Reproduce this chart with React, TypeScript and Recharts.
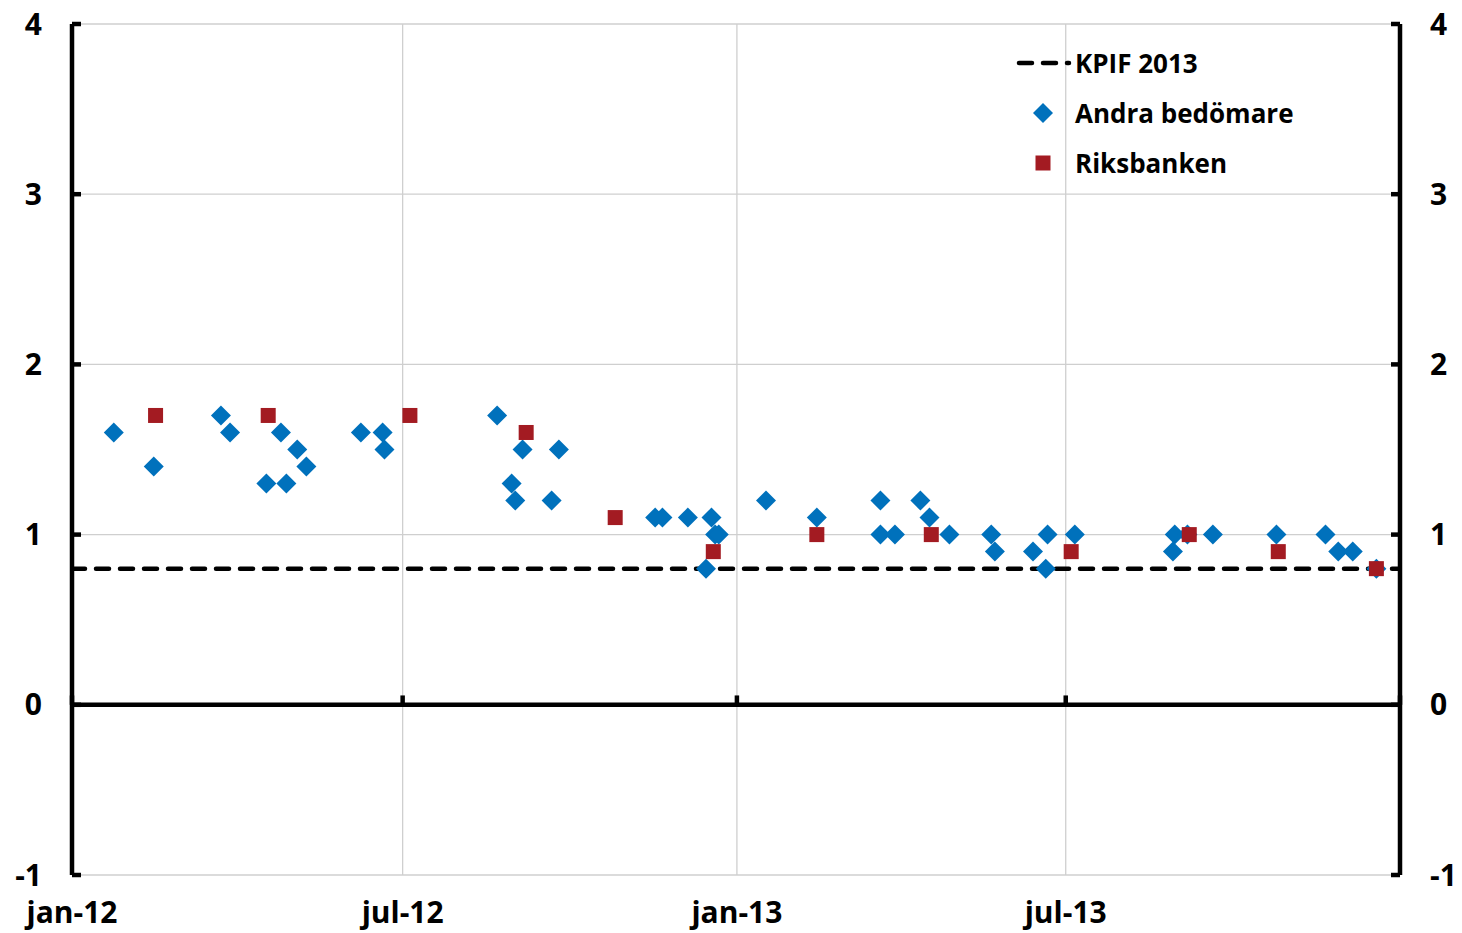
import React from 'react';
import { ComposedChart, Scatter, XAxis, YAxis, CartesianGrid, ReferenceLine } from 'recharts';

// KPIF outcome for 2013, drawn across the whole period
const KPIF_2013: [string, number][] = [
  ['2012-01-01', 0.8], ['2014-01-01', 0.8],
];

// forecasts from other forecasters (date of forecast, KPIF 2013 %)
const ANDRA_BEDOMARE: [string, number][] = [
  ['2012-01-24', 1.6], ['2012-02-15', 1.4], ['2012-03-23', 1.7], ['2012-03-28', 1.6],
  ['2012-04-17', 1.3], ['2012-04-25', 1.6], ['2012-04-28', 1.3], ['2012-05-04', 1.5],
  ['2012-05-09', 1.4], ['2012-06-08', 1.6], ['2012-06-20', 1.6], ['2012-06-21', 1.5],
  ['2012-08-22', 1.7], ['2012-08-30', 1.3], ['2012-09-01', 1.2], ['2012-09-05', 1.5],
  ['2012-09-21', 1.2], ['2012-09-25', 1.5], ['2012-11-17', 1.1], ['2012-11-21', 1.1],
  ['2012-12-05', 1.1], ['2012-12-15', 0.8], ['2012-12-18', 1.1], ['2012-12-20', 1.0],
  ['2012-12-22', 1.0], ['2013-01-17', 1.2], ['2013-02-14', 1.1], ['2013-03-21', 1.2],
  ['2013-03-21', 1.0], ['2013-03-29', 1.0], ['2013-04-12', 1.2], ['2013-04-17', 1.1],
  ['2013-04-28', 1.0], ['2013-05-21', 1.0], ['2013-05-23', 0.9], ['2013-06-13', 0.9],
  ['2013-06-20', 0.8], ['2013-06-21', 1.0], ['2013-07-06', 1.0], ['2013-08-29', 0.9],
  ['2013-08-30', 1.0], ['2013-09-06', 1.0], ['2013-09-20', 1.0], ['2013-10-25', 1.0],
  ['2013-11-21', 1.0], ['2013-11-28', 0.9], ['2013-12-06', 0.9], ['2013-12-19', 0.8],
];

// Riksbank forecasts
const RIKSBANKEN: [string, number][] = [
  ['2012-02-16', 1.7], ['2012-04-18', 1.7], ['2012-07-05', 1.7], ['2012-09-07', 1.6],
  ['2012-10-26', 1.1], ['2012-12-19', 0.9], ['2013-02-14', 1.0], ['2013-04-18', 1.0],
  ['2013-07-04', 0.9], ['2013-09-07', 1.0], ['2013-10-26', 0.9], ['2013-12-19', 0.8],
];

const X_TICK_DATES = ['2012-01-01', '2012-07-01', '2013-01-01', '2013-07-01', '2014-01-01'];
const X_TICK_LABELS = ['jan-12', 'jul-12', 'jan-13', 'jul-13', ''];
const Y_TICKS = [-1, 0, 1, 2, 3, 4];

const BLUE = '#0071bc';
const RED = '#a31b22';
const FONT = "'Open Sans', 'Noto Sans', sans-serif";

const toTime = (d: string) => {
  const [y, m, dd] = d.split('-').map(Number);
  return Date.UTC(y, m - 1, dd);
};
const toPoints = (rows: [string, number][]) => rows.map(([d, v]) => ({ x: toTime(d), y: v }));

const xTicks = X_TICK_DATES.map(toTime);
const xLabel = (v: number) => X_TICK_LABELS[xTicks.indexOf(v)] ?? '';

const Diamond = (props: any) => {
  const { cx, cy } = props;
  const r = 10;
  return <polygon points={`${cx},${cy - r} ${cx + r},${cy} ${cx},${cy + r} ${cx - r},${cy}`} fill={BLUE} />;
};

const Square = (props: any) => {
  const { cx, cy } = props;
  return <rect x={cx - 7.5} y={cy - 7.5} width={15} height={15} fill={RED} />;
};

const Nothing = () => <g />;

const dash = { stroke: '#000', strokeWidth: 4.5, strokeDasharray: '13 11', strokeLinecap: 'round' as const };

function LegendBox() {
  const row: React.CSSProperties = { display: 'flex', alignItems: 'center', height: 50 };
  const text: React.CSSProperties = { fontSize: 26, fontWeight: 700, color: '#000', fontFamily: FONT, lineHeight: 1 };
  return (
    <div style={{ position: 'absolute', left: 1012, top: 38 }}>
      <div style={row}>
        <svg width={63} height={50}><line x1={7} y1={25} x2={57} y2={25} {...dash} /></svg>
        <span style={text}>KPIF 2013</span>
      </div>
      <div style={row}>
        <svg width={63} height={50}><Diamond cx={31} cy={25} /></svg>
        <span style={text}>Andra bedömare</span>
      </div>
      <div style={row}>
        <svg width={63} height={50}><Square cx={31} cy={25} /></svg>
        <span style={text}>Riksbanken</span>
      </div>
    </div>
  );
}

export default function App() {
  const tickStyle = { fontSize: 30, fontWeight: 700, fill: '#000', fontFamily: FONT };
  const axisLine = { stroke: '#000', strokeWidth: 4.5 };
  return (
    <div style={{ position: 'absolute', left: 0, top: 0, width: 1462, height: 933, fontFamily: FONT, background: '#fff' }}>
      <ComposedChart width={1462} height={933} margin={{ top: 24, right: 0, bottom: 0, left: 0 }}>
        <CartesianGrid stroke="#cfcfcf" strokeWidth={1.3} />
        <XAxis dataKey="x" type="number" domain={[xTicks[0], xTicks[xTicks.length - 1]]} ticks={xTicks}
               interval={0} tickFormatter={xLabel} axisLine={false} tickLine={false} tickSize={0}
               tickMargin={27} height={58} tick={tickStyle} allowDataOverflow />
        <YAxis dataKey="y" type="number" domain={[-1, 4]} ticks={Y_TICKS} interval={0} width={72}
               axisLine={axisLine} tickLine={axisLine} tickSize={-9} tickMargin={39} tick={tickStyle} />
        <YAxis yAxisId="r" dataKey="y" orientation="right" type="number" domain={[-1, 4]} ticks={Y_TICKS}
               interval={0} width={62} axisLine={axisLine} tickLine={axisLine} tickSize={-9} tickMargin={39}
               tick={tickStyle} />
        <ReferenceLine y={0} stroke="#000" strokeWidth={4.5} />
        {xTicks.map(t => (
          <ReferenceLine key={t} segment={[{ x: t, y: 0 }, { x: t, y: 0.055 }]} stroke="#000" strokeWidth={4.5} />
        ))}
        <Scatter yAxisId="r" name="KPIF 2013" data={toPoints(KPIF_2013)} line={dash} shape={Nothing}
                 isAnimationActive={false} />
        <Scatter name="Andra bedömare" data={toPoints(ANDRA_BEDOMARE)} shape={Diamond} isAnimationActive={false} />
        <Scatter name="Riksbanken" data={toPoints(RIKSBANKEN)} shape={Square} isAnimationActive={false} />
      </ComposedChart>
      <LegendBox />
    </div>
  );
}
